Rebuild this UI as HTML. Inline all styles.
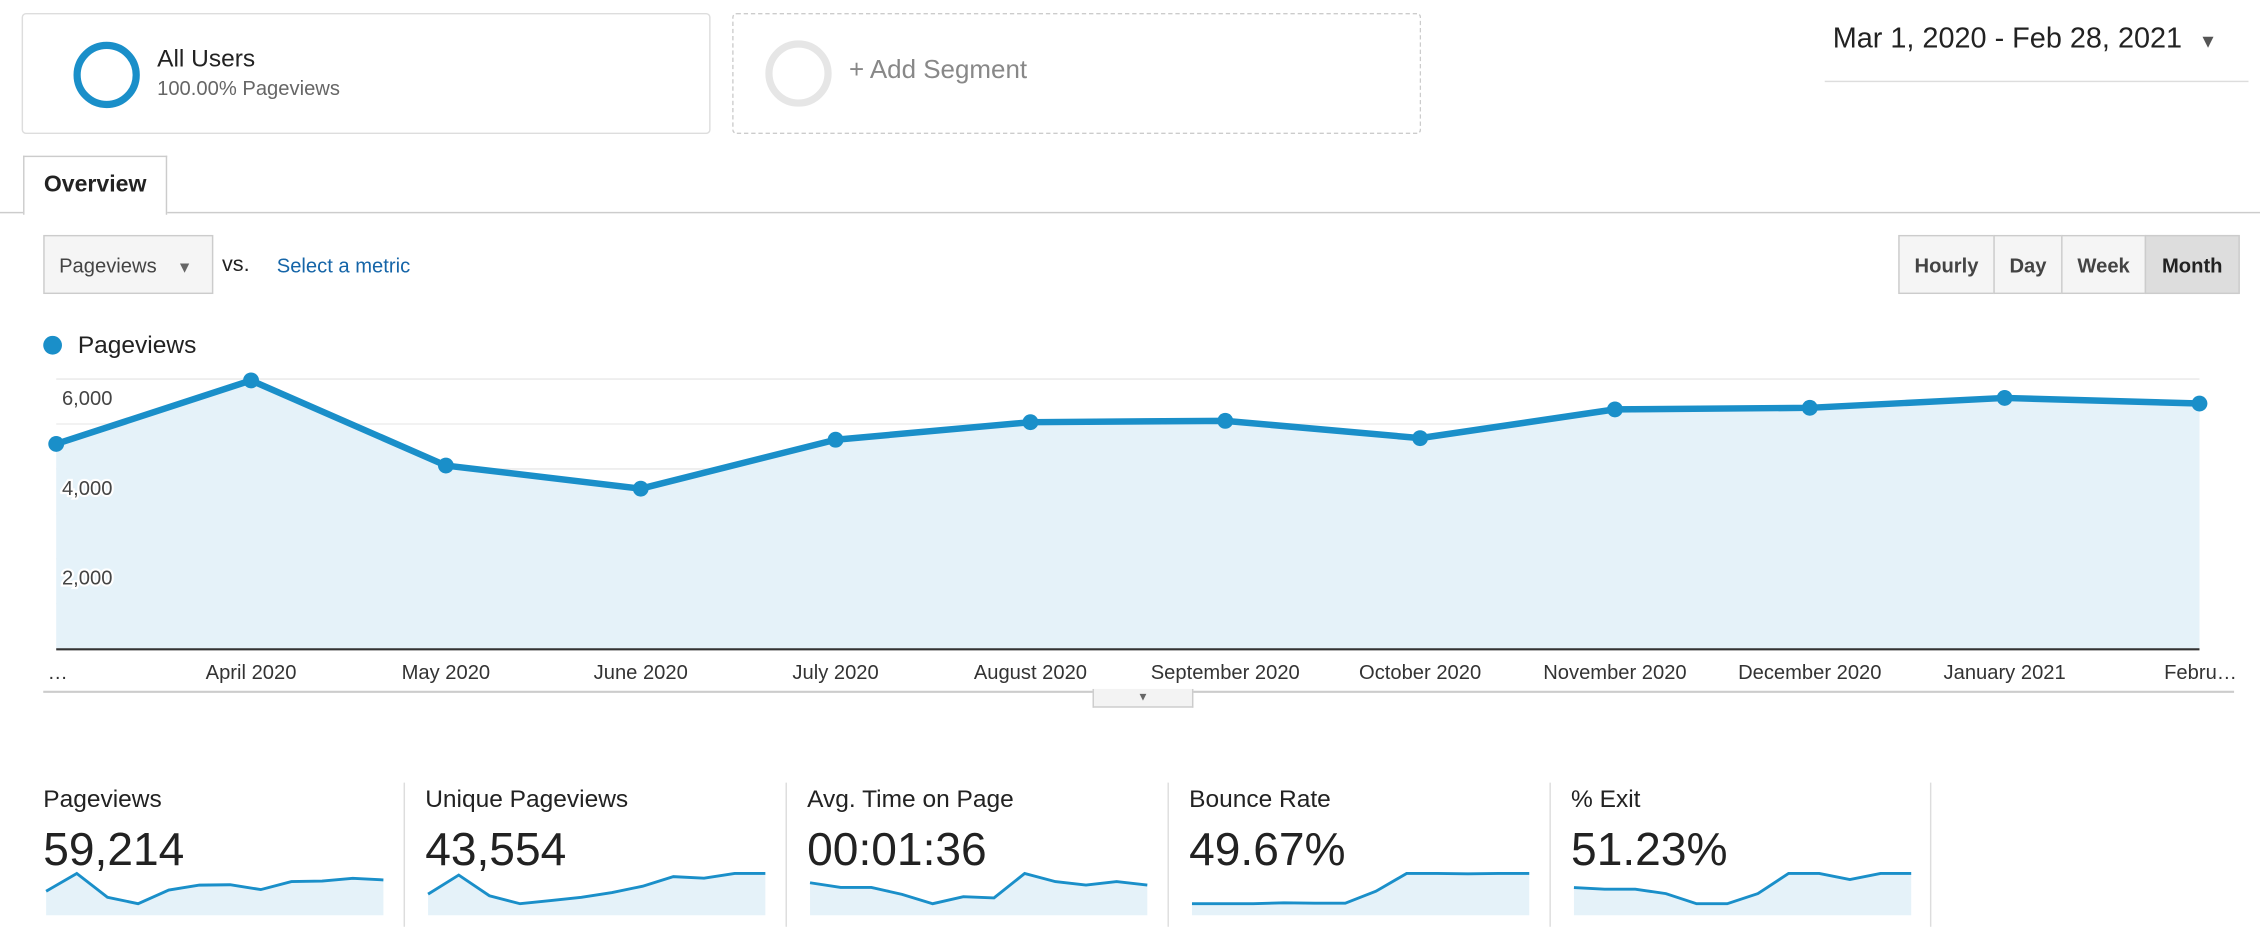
<!DOCTYPE html>
<html><head><meta charset="utf-8">
<style>
html,body{margin:0;padding:0;background:#fff;overflow:hidden;width:2260px;height:948px}
#root{position:absolute;left:0;top:0;width:1568px;height:658px;transform:scale(1.44133);transform-origin:0 0;font-family:"Liberation Sans",Arial,sans-serif;color:#222}
.abs{position:absolute}
.btn{position:absolute;top:163px;height:41px;border:1px solid #ccc;background:#f5f5f5;font-size:14px;font-weight:bold;color:#444;line-height:41px;text-align:center;box-sizing:border-box}
.card{position:absolute;top:543px;width:264px;height:100px}
.card .t{position:absolute;left:0;top:2px;font-size:17px;color:#222}
.card .v{position:absolute;left:0;top:28px;font-size:32px;color:#222}
.sep{position:absolute;top:543px;width:1px;height:100px;background:#ddd}
</style></head><body>
<div id="root">
  <div class="abs" style="left:15px;top:9px;width:478px;height:84px;border:1px solid #ddd;border-radius:3px;box-sizing:border-box">
    <div class="abs" style="left:35px;top:19px;width:36px;height:36px;border:5px solid #1a8fc9;border-radius:50%"></div>
    <div class="abs" style="left:93px;top:21px;font-size:17px;color:#222">All Users</div>
    <div class="abs" style="left:93px;top:43px;font-size:14px;color:#666">100.00% Pageviews</div>
  </div>
  <div class="abs" style="left:508px;top:9px;width:478px;height:84px;border:1px dashed #ccc;border-radius:3px;box-sizing:border-box">
    <div class="abs" style="left:22px;top:18px;width:36px;height:36px;border:5px solid #e6e6e6;border-radius:50%"></div>
    <div class="abs" style="left:80px;top:28px;font-size:18px;color:#888">+ Add Segment</div>
  </div>
  <div class="abs" style="left:1266px;top:12px;width:294px;height:44px;border-bottom:1px solid #ddd;font-size:20px;color:#222;line-height:30px">&nbsp;Mar 1, 2020 - Feb 28, 2021 <span style="font-size:13px;color:#555;margin-left:6px">▼</span></div>
  <div class="abs" style="left:16px;top:108px;width:100px;height:41px;border:1px solid #ccc;border-bottom:none;background:#fff;font-size:16px;font-weight:bold;line-height:40px;text-align:center;box-sizing:border-box;z-index:2">Overview</div>
  <div class="abs" style="left:0;top:147px;width:1568px;height:1px;background:#ccc"></div>
  <div class="abs" style="left:30px;top:163px;width:118px;height:41px;border:1px solid #ccc;background:#f5f5f5;box-sizing:border-box;font-size:14px;color:#444;line-height:40px;padding-left:10px">Pageviews <span style="font-size:11px;color:#666;margin-left:10px">▼</span></div>
  <div class="abs" style="left:154px;top:175px;font-size:15px">vs.</div>
  <div class="abs" style="left:192px;top:176px;font-size:14px;color:#1565a8">Select a metric</div>
  <div class="btn" style="left:1317px;width:67px">Hourly</div>
  <div class="btn" style="left:1383px;width:48px">Day</div>
  <div class="btn" style="left:1430px;width:59px">Week</div>
  <div class="btn" style="left:1488px;width:66px;background:#ddd;color:#222">Month</div>
  <div class="abs" style="left:30px;top:233px;width:13px;height:13px;border-radius:50%;background:#1a8fc9"></div>
  <div class="abs" style="left:54px;top:230px;font-size:17px">Pageviews</div>
  <svg class="abs" id="chart" style="left:0;top:240px" width="1568" height="250" viewBox="0 240 1568 250"></svg>
  <div class="abs" style="left:758px;top:478px;width:68px;height:12px;border:1px solid #ccc;border-top:none;background:#f3f3f3;font-size:8px;color:#666;text-align:center;line-height:12px">▼</div>
  <div class="card" style="left:30px"><div class="t">Pageviews</div><div class="v">59,214</div></div>
  <div class="sep" style="left:280px"></div>
  <div class="card" style="left:295px"><div class="t">Unique Pageviews</div><div class="v">43,554</div></div>
  <div class="sep" style="left:545px"></div>
  <div class="card" style="left:560px"><div class="t">Avg. Time on Page</div><div class="v">00:01:36</div></div>
  <div class="sep" style="left:810px"></div>
  <div class="card" style="left:825px"><div class="t">Bounce Rate</div><div class="v">49.67%</div></div>
  <div class="sep" style="left:1075px"></div>
  <div class="card" style="left:1090px"><div class="t">% Exit</div><div class="v">51.23%</div></div>
  <div class="sep" style="left:1339px"></div>
  <svg class="abs" id="sparks" style="left:0;top:0" width="1568" height="658"></svg>
</div>
<script>
const months = ["Mar","April 2020","May 2020","June 2020","July 2020","August 2020","September 2020","October 2020","November 2020","December 2020","January 2021","Febru…"];
const pageviews = [4556,5970,4075,3560,4650,5040,5070,4685,5325,5360,5580,5455];
const yTicks = [2000,4000,6000];
const yTickLabels = ["2,000","4,000","6,000"];
const sparkPageviews = [4556,5970,4075,3560,4650,5040,5070,4685,5325,5360,5580,5455];
const sparkUnique = [3300,3900,3250,3000,3100,3200,3350,3550,3850,3800,3950,3950];
const sparkTime = [96,92,92,86,78,84,83,104,97,94,97,94];
const sparkBounce = [38,38,38,38.5,38.3,38.3,45,55,55,54.8,55,55];
const sparkExit = [50,49.6,49.6,48.5,46,46,48.5,53.5,53.5,52,53.5,53.5];
const NS="http://www.w3.org/2000/svg";
function mk(p,tag,attrs){const e=document.createElementNS(NS,tag);for(const k in attrs)e.setAttribute(k,attrs[k]);p.appendChild(e);return e;}
const X0=39,X1=1526,Y0=450,YMAX=6000,YTOP=263;
const xs=i=>X0+(X1-X0)*i/(months.length-1);
const ys=v=>Y0-(Y0-YTOP)*v/YMAX;
const c=document.getElementById('chart');
// gridlines every 1000
for(let v=1000;v<=7000;v+=1000){const g=mk(c,'line',{x1:X0,x2:X1,y1:ys(v),y2:ys(v),stroke:v%2000===0?'#e8e8e8':'#eeeeee','stroke-width':1});

}
let d='M'+xs(0)+','+ys(pageviews[0]);pageviews.forEach((v,i)=>{if(i)d+=' L'+xs(i)+','+ys(v);});
const area=mk(c,'path',{d:d+' L'+xs(pageviews.length-1)+','+Y0+' L'+xs(0)+','+Y0+' Z',fill:'#e5f2f9'});


yTicks.forEach((v,i)=>{const t=mk(c,'text',{x:43,y:ys(v)+18,'font-size':14,fill:'#444',stroke:'#fff','stroke-width':3,'paint-order':'stroke'});t.textContent=yTickLabels[i];

});
const ln=mk(c,'path',{d:d,fill:'none',stroke:'#1a8fc9','stroke-width':4.5,'stroke-linejoin':'round'});


pageviews.forEach((v,i)=>{const p=mk(c,'circle',{cx:xs(i),cy:ys(v),r:5.5,fill:'#1a8fc9'});

});
const ax=mk(c,'line',{x1:X0,x2:1526,y1:Y0+0.5,y2:Y0+0.5,stroke:'#333','stroke-width':1.5});


mk(c,'line',{x1:30,x2:1550,y1:480,y2:480,stroke:'#ccc','stroke-width':1.5});
months.forEach((m,i)=>{let x=xs(i),anchor='middle',lab=m;if(i===0){x=33;anchor='start';lab='…';}if(i===months.length-1){x=1552;anchor='end';}
const t=mk(c,'text',{x:x,y:471,'font-size':14,fill:'#333','text-anchor':anchor});t.textContent=lab;

});
// sparklines
const s=document.getElementById('sparks');
const sparkSets=[sparkPageviews,sparkUnique,sparkTime,sparkBounce,sparkExit];
const sparkNames=['pageviews-sparkline','unique-sparkline','time-sparkline','bounce-sparkline','exit-sparkline'];
sparkSets.forEach((arr,k)=>{const L=32+265*k,W=234,T=606,B=635;
const mn=Math.min(...arr),mx=Math.max(...arr);
const sx=i=>L+W*i/(arr.length-1),sy=v=>T+(B-8-T)*(mx-v)/(mx-mn||1);
let dd='M'+sx(0)+','+sy(arr[0]);arr.forEach((v,i)=>{if(i)dd+=' L'+sx(i)+','+sy(v);});
mk(s,'path',{d:dd+' L'+sx(arr.length-1)+','+B+' L'+L+','+B+' Z',fill:'#e5f2f9'});
const p=mk(s,'path',{d:dd,fill:'none',stroke:'#1a8fc9','stroke-width':2});

});
</script>
</body></html>
